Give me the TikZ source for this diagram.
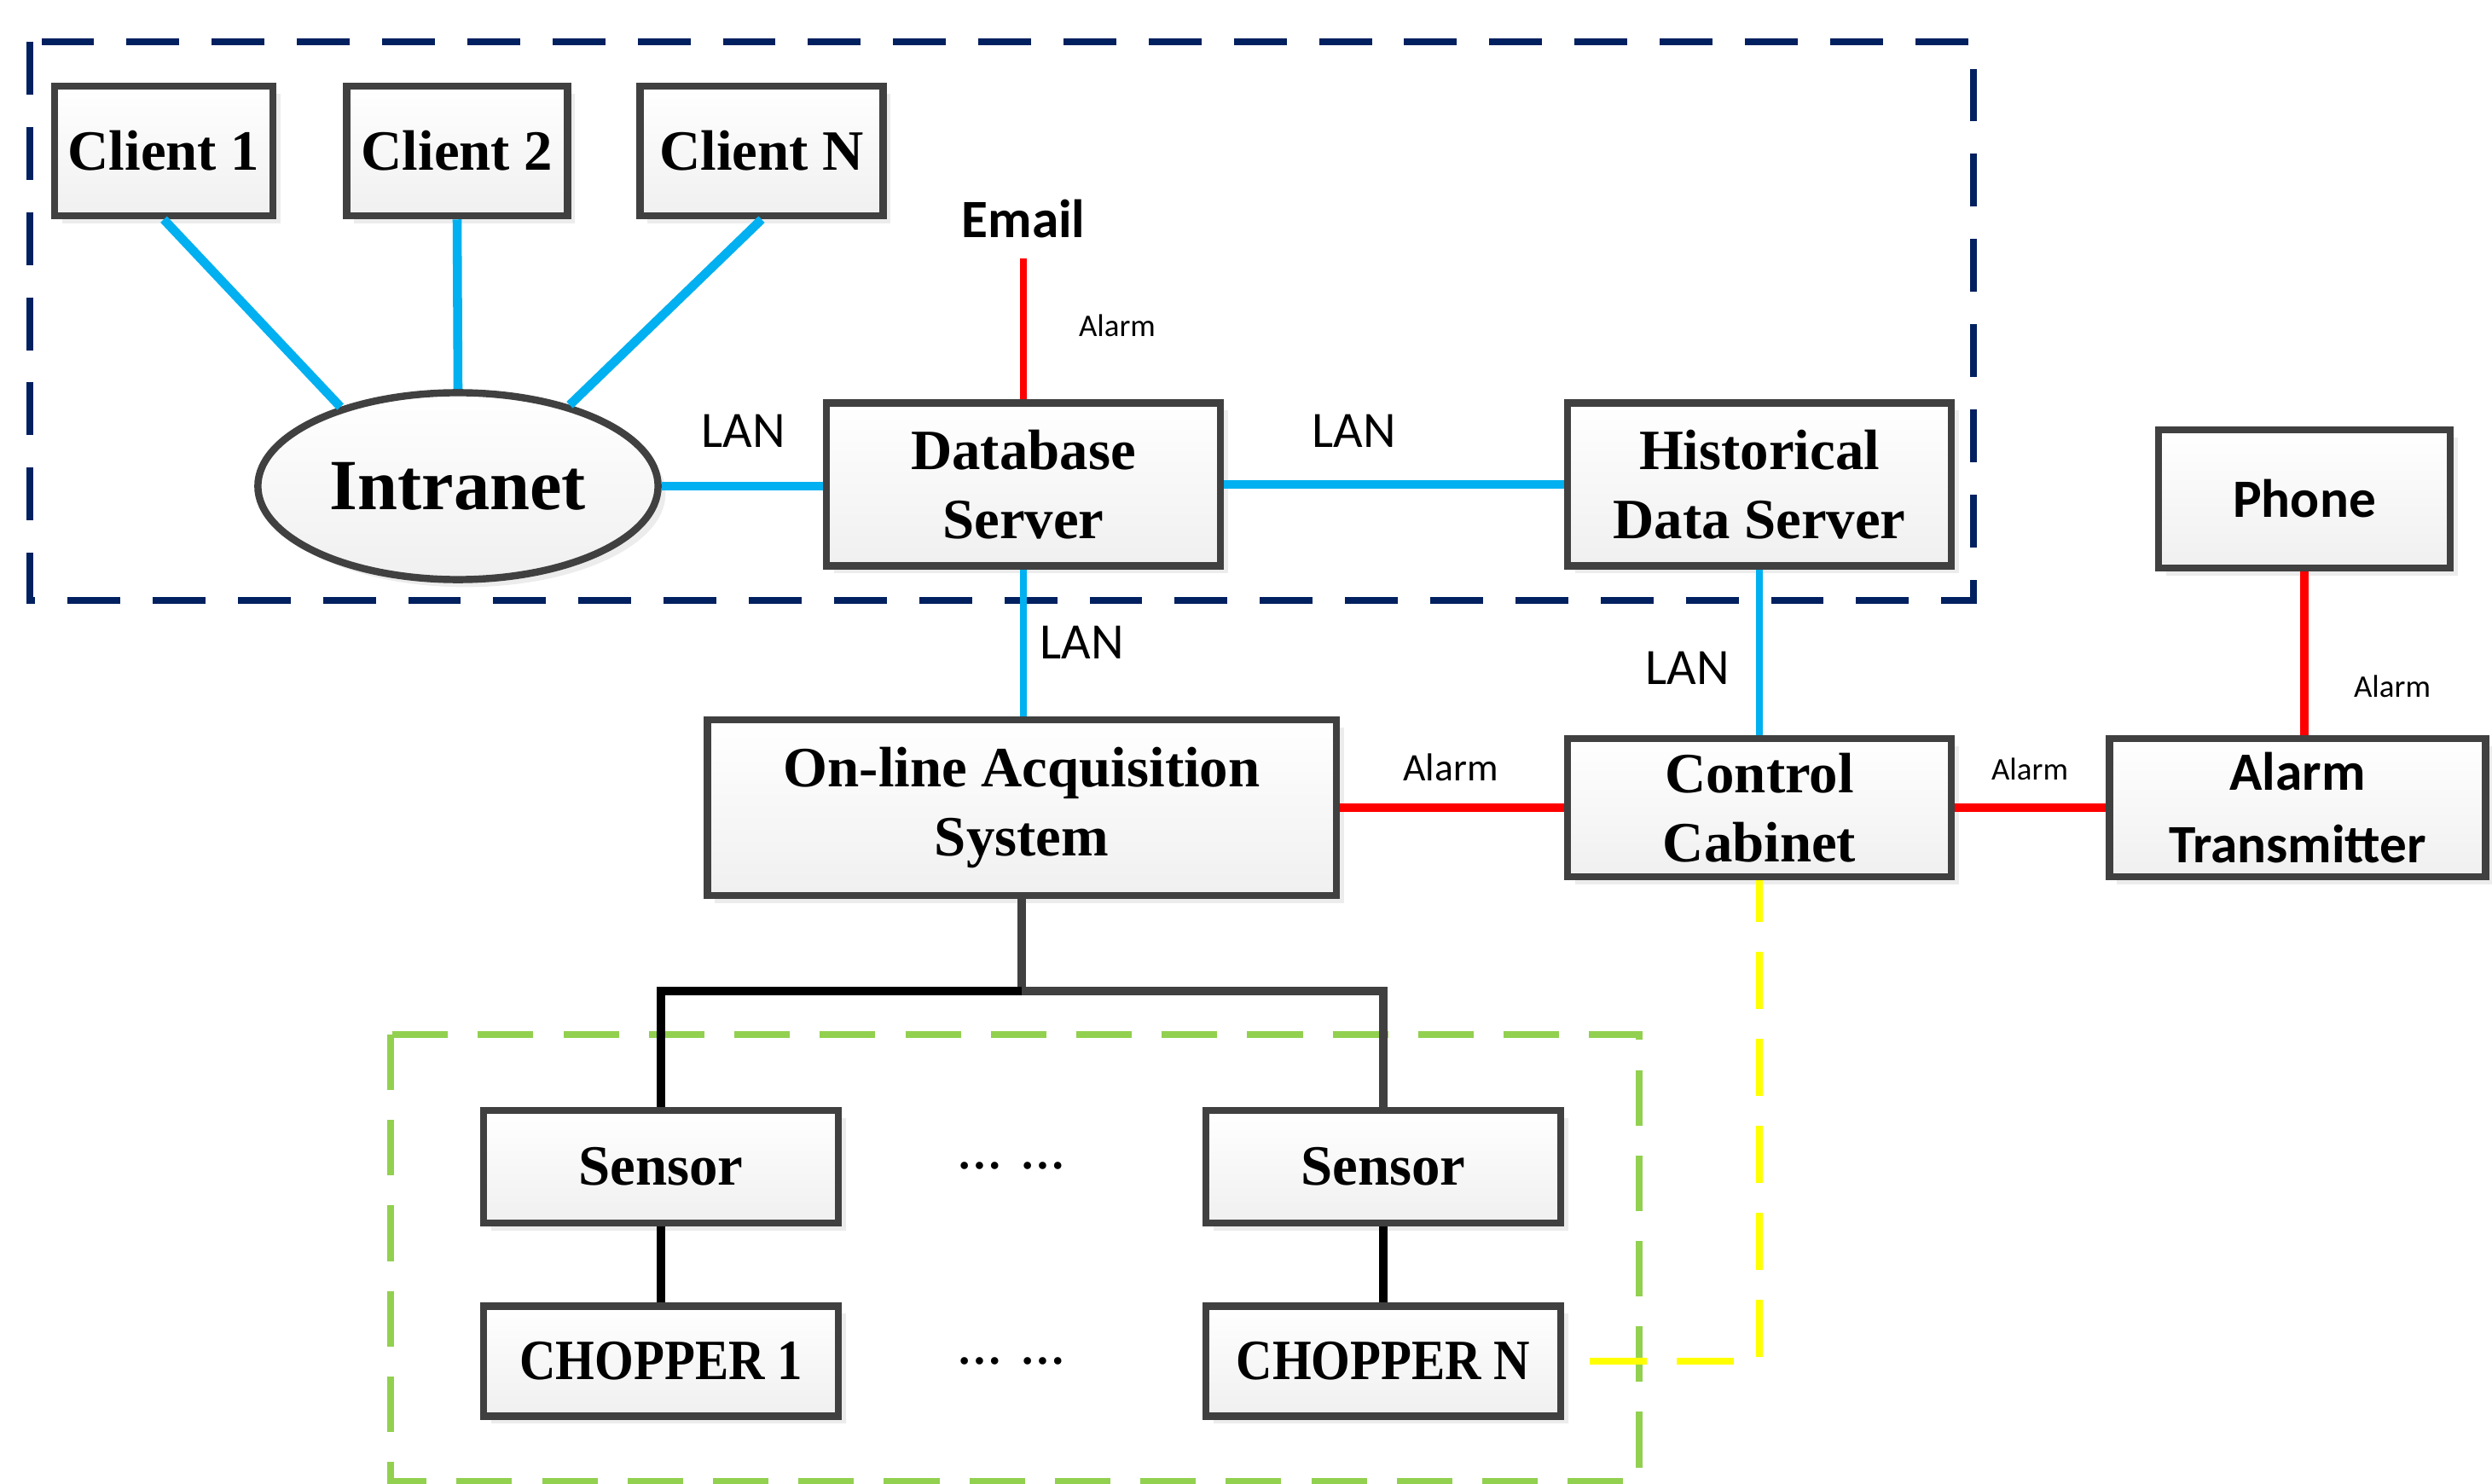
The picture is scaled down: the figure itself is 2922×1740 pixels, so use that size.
\documentclass[tikz,border=0pt]{standalone}
\usepackage{fontspec}
\setmainfont{Liberation Serif}
\newfontfamily\calfont{Carlito}
\usepackage{tikz}
\usetikzlibrary{positioning, shapes.geometric, shadows}
\definecolor{lanblue}{HTML}{00B0F0}
\definecolor{alarmred}{HTML}{FF0000}
\definecolor{navy}{HTML}{002060}
\definecolor{grass}{HTML}{92D050}
\definecolor{boxgray}{HTML}{404040}
\definecolor{yel}{HTML}{FFFF00}
\tikzstyle{unit} = [draw=boxgray, line width=2.4pt, rectangle, top color=white, bottom color=gray!12, drop shadow={shadow xshift=2.5pt, shadow yshift=-2.5pt, opacity=0.15}, font=\bfseries\fontsize{19}{23}\selectfont, align=center, inner sep=0pt]
\tikzstyle{lan} = [lanblue, line width=3pt]
\tikzstyle{lanthin} = [lanblue, line width=2.5pt]
\tikzstyle{alarm} = [alarmred, line width=3pt]
\tikzstyle{wire} = [boxgray, line width=3pt]
\tikzstyle{lanlabel} = [font=\calfont\fontsize{17}{20}\selectfont]
\tikzstyle{alarmlabel} = [font=\calfont\fontsize{10.5}{12}\selectfont]

\begin{document}
\begin{tikzpicture}[x=0.01cm, y=-0.01cm, align=center]
        \useasboundingbox (0,0) rectangle (2922,1740);

        % Groups
        \draw[navy, line width=2.3pt, dash pattern=on 17.6pt off 10.8pt] (35,49) rectangle (2314,704);
        \draw[grass, line width=2.3pt, dash pattern=on 18.5pt off 10pt] (458,1213) rectangle (1922,1737);

        % Clients
        \node[unit, minimum width=2.56cm, minimum height=1.52cm] (client1) at (192,177) {Client 1};
        \node[unit, minimum width=2.59cm, minimum height=1.52cm] (client2) at (536,177) {Client 2};
        \node[unit, minimum width=2.85cm, minimum height=1.52cm] (clientn) at (893,177) {Client N};

        % Intranet
        \node[unit, ellipse, minimum width=4.69cm, minimum height=2.19cm, font=\bfseries\fontsize{24}{28}\selectfont] (intranet) at (537,570) {Intranet};

        % Servers
        \node[unit, minimum width=4.62cm, minimum height=1.91cm] (db) at (1200,568) {Database\\Server};
        \node[unit, minimum width=4.5cm, minimum height=1.91cm] (hist) at (2063,568) {Historical\\Data Server};
        \node[font=\calfont\bfseries\fontsize{18}{21}\selectfont] (email) at (1200,257) {Email};

        % Phone and transmitter
        \node[unit, font=\calfont\bfseries\fontsize{18}{24}\selectfont, minimum width=3.42cm, minimum height=1.62cm] (phone) at (2702,585) {Phone};
        \node[unit, font=\calfont\bfseries\fontsize{18}{24}\selectfont, minimum width=4.41cm, minimum height=1.62cm] (trans) at (2694,947) {Alarm\\Transmitter};

        % Acquisition
        \node[unit, minimum width=7.37cm, minimum height=2.06cm] (oas) at (1198,947) {On-line Acquisition\\System};
        \node[unit, minimum width=4.5cm, minimum height=1.62cm] (cc) at (2063,947) {Control\\Cabinet};

        % Sensors and choppers
        \node[unit, minimum width=4.16cm, minimum height=1.32cm] (sensor1) at (775,1368) {Sensor};
        \node[unit, minimum width=4.16cm, minimum height=1.32cm] (sensorn) at (1622,1368) {Sensor};
        \node[unit, minimum width=4.16cm, minimum height=1.29cm] (chopper1) at (775,1596) {\addfontfeature{FakeStretch=0.88}CHOPPER 1};
        \node[unit, minimum width=4.16cm, minimum height=1.29cm] (choppern) at (1622,1596) {\addfontfeature{FakeStretch=0.88}CHOPPER N};
        \node[font=\bfseries\fontsize{15}{16}\selectfont] (dots1) at (1186,1367) {…\hspace{6pt}…};
        \node[font=\bfseries\fontsize{15}{16}\selectfont] (dots2) at (1186,1596) {…\hspace{6pt}…};
        \coordinate (bus) at (1198,1162);

        % LAN links
        \draw[lan] (client1.south) -- (intranet.146);
        \draw[lan] (client2.south) -- (intranet.north);
        \draw[lan] (clientn.south) -- (intranet.36);
        \draw[lan] (intranet.east) -- (intranet.east -| db.west);
        \draw[lan] (db.east) -- (hist.west);
        \draw[lanthin] (db.south) -- (db.south |- oas.north);
        \draw[lanthin] (hist.south) -- (cc.north);

        % Alarm links
        \draw[alarm, line width=2.5pt, shorten >=3.1pt] (db.north) -- (email.south);
        \draw[alarm] (oas.east) -- (cc.west);
        \draw[alarm] (cc.east) -- (trans.west);
        \draw[alarm] (phone.south) -- (phone.south |- trans.north);

        % Sensor wiring
        \draw[wire] (oas.south) -- (bus) -| (sensorn.north);
        \draw[wire, black] (bus) -| (sensor1.north);
        \draw[wire, black] (sensor1) -- (chopper1);
        \draw[wire, black] (sensorn) -- (choppern);
        \draw[yel, line width=2.2pt, dash pattern=on 19pt off 10pt, shorten <=8.5pt] (choppern.east) -| (cc.south);

        % Labels
        \node[lanlabel] (lan1) at (872,505) {LAN};
        \node[lanlabel] (lan2) at (1588,505) {LAN};
        \node[lanlabel] (lan3) at (1269,753) {LAN};
        \node[lanlabel] (lan4) at (1979,783) {LAN};
        \node[alarmlabel] (alarm1) at (1310,382) {Alarm};
        \node[alarmlabel, font=\calfont\fontsize{13}{15}\selectfont] (alarm2) at (1701,900) {Alarm};
        \node[alarmlabel] (alarm3) at (2380,902) {Alarm};
        \node[alarmlabel] (alarm4) at (2805,805) {Alarm};

    \end{tikzpicture}
\end{document}
